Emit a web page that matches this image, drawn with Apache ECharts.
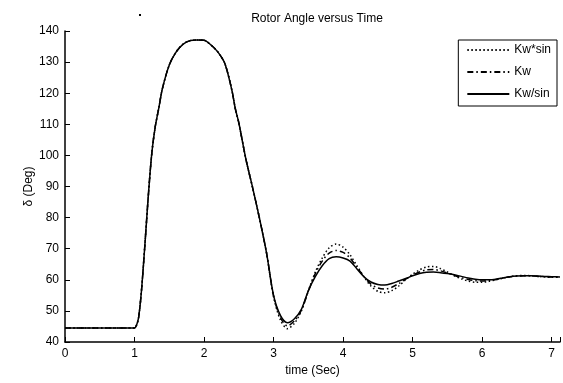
<!DOCTYPE html>
<html><head><meta charset="utf-8">
<script src="https://cdn.jsdelivr.net/npm/echarts@6/dist/echarts.min.js"></script>
<style>html,body{margin:0;padding:0;background:#fff}#c{width:563px;height:383px}</style>
</head><body><div id="c"></div>
<script>
// Shared transient (all three curves coincide up to t = 3.0 s)
var tCommon = [0, 1.0, 1.03, 1.06, 1.1, 1.15, 1.2, 1.25, 1.3, 1.35, 1.4, 1.5, 1.6, 1.7, 1.8, 1.9, 2.0, 2.1, 2.2, 2.3, 2.4, 2.45, 2.5, 2.6, 2.7, 2.8, 2.9];
var vCommon = [44.5, 44.5, 45.5, 48, 56.5, 71.5, 87.5, 101, 109.5, 115.3, 121.4, 129.1, 133.3, 135.8, 136.9, 137.1, 137.0, 135.5, 133.2, 129.5, 121, 115, 110.5, 99, 89.5, 79.5, 68.5];
// Oscillation tail, t = 3.0 ... 7.12 s
var tTail = [3.0, 3.1, 3.2, 3.3, 3.4, 3.5, 3.6, 3.7, 3.8, 3.9, 4.0, 4.1, 4.2, 4.3, 4.4, 4.5, 4.6, 4.7, 4.8, 4.9, 5.0, 5.1, 5.2, 5.3, 5.4, 5.5, 5.6, 5.7, 5.8, 5.9, 6.0, 6.1, 6.2, 6.3, 6.4, 6.5, 6.6, 6.7, 6.8, 6.9, 7.0, 7.12];
var kwSinMul = [54.5, 47, 44.3, 46, 50, 56.5, 62.5, 67, 70.3, 71.5, 70.5, 68, 64.5, 61, 58, 56.3, 55.8, 56.5, 58, 60, 61.8, 63.2, 64.1, 64.3, 63.6, 62.5, 61.3, 60.3, 59.6, 59.2, 59.2, 59.5, 60, 60.5, 61, 61.3, 61.4, 61.3, 61.1, 60.9, 60.8, 60.8];
var kw = [54.8, 47.8, 45.2, 46.8, 50.2, 56.3, 62, 66, 68.6, 69.4, 68.8, 67, 64, 61, 58.6, 57.4, 57, 57.6, 58.8, 60.2, 61.5, 62.5, 63.2, 63.3, 62.9, 62.2, 61.4, 60.7, 60.1, 59.7, 59.6, 59.8, 60.1, 60.6, 61, 61.2, 61.3, 61.3, 61.1, 61, 60.9, 60.9];
var kwSinDiv = [55, 48.5, 46.2, 47.5, 50.5, 56.5, 61, 64.5, 66.8, 67.4, 67, 66, 63.5, 61, 59.3, 58.5, 58.3, 58.8, 59.6, 60.4, 61.3, 62, 62.4, 62.5, 62.3, 62, 61.6, 61.1, 60.6, 60.2, 60, 60, 60.2, 60.6, 61, 61.2, 61.3, 61.3, 61.2, 61.1, 61, 60.9];
var seriesNames = ['Kw*sin', 'Kw', 'Kw/sin'];
var yTicks = [40, 50, 60, 70, 80, 90, 100, 110, 120, 130, 140];
var xTicks = [0, 1, 2, 3, 4, 5, 6, 7];

function build(tail) {
  var out = [];
  for (var i = 0; i < tCommon.length; i++) out.push([tCommon[i], vCommon[i]]);
  for (var j = 0; j < tTail.length; j++) out.push([tTail[j], tail[j]]);
  return out;
}
var FONT = 'Liberation Sans, Arial, sans-serif';
var chart = echarts.init(document.getElementById('c'), null, {renderer: 'canvas'});
chart.setOption({
  animation: false,
  backgroundColor: '#fff',
  title: {text: 'Rotor Angle versus Time', left: 312, top: 8, textAlign: 'center',
    textStyle: {fontFamily: FONT, fontSize: 12, fontWeight: 'normal', color: '#000'}},
  graphic: [{type: 'rect', left: 139, top: 14, shape: {width: 2, height: 2}, style: {fill: '#000'}}],
  legend: {
    show: true,
    orient: 'vertical', right: 6, top: 40,
    backgroundColor: '#fff', borderColor: '#000', borderWidth: 1,
    padding: [4, 6, 6, 8], itemGap: 10, itemWidth: 42, itemHeight: 10,
    itemStyle: {opacity: 0},
    textStyle: {fontFamily: FONT, fontSize: 12, color: '#000'},
    data: seriesNames
  },
  grid: {left: 65, right: 1, top: 31, bottom: 41, containLabel: false},
  xAxis: {
    type: 'value', min: 0, max: 7.12, interval: 1,
    name: 'time (Sec)', nameLocation: 'middle', nameGap: 22,
    nameTextStyle: {fontFamily: FONT, fontSize: 12, color: '#000'},
    axisLine: {show: true, lineStyle: {color: '#000', width: 1.5}},
    axisTick: {show: true, inside: true, length: 5, lineStyle: {color: '#000'}},
    axisLabel: {fontFamily: FONT, fontSize: 12, color: '#000', margin: 6,
      formatter: function (v) { return xTicks.indexOf(v) >= 0 ? String(v) : ''; }},
    splitLine: {show: false}
  },
  yAxis: {
    type: 'value', min: 40, max: 140, interval: 10,
    name: 'δ (Deg)', nameLocation: 'middle', nameGap: 30, nameRotate: 90,
    nameMoveOverlap: false,
    nameTextStyle: {fontFamily: FONT, fontSize: 12, color: '#000'},
    axisLine: {show: true, lineStyle: {color: '#000', width: 1.5}},
    axisTick: {show: true, inside: true, length: 5, lineStyle: {color: '#000'}},
    axisLabel: {fontFamily: FONT, fontSize: 12, color: '#000', margin: 6,
      formatter: function (v) { return yTicks.indexOf(v) >= 0 ? String(v) : ''; }},
    splitLine: {show: false}
  },
  series: [
    {name: seriesNames[0], type: 'line', data: build(kwSinMul), symbol: 'none', smooth: 0.3,
      lineStyle: {color: '#000', width: 1.5, type: [1.5, 2.5]}, itemStyle: {color: '#000'}, z: 1},
    {name: seriesNames[1], type: 'line', data: build(kw), symbol: 'none', smooth: 0.3,
      lineStyle: {color: '#000', width: 1.5, type: [6, 3, 1.5, 3]}, itemStyle: {color: '#000'}, z: 2},
    {name: seriesNames[2], type: 'line', data: build(kwSinDiv), symbol: 'none', smooth: 0.3,
      lineStyle: {color: '#000', width: 1.5}, itemStyle: {color: '#000'}, z: 3}
  ]
});
</script></body></html>
